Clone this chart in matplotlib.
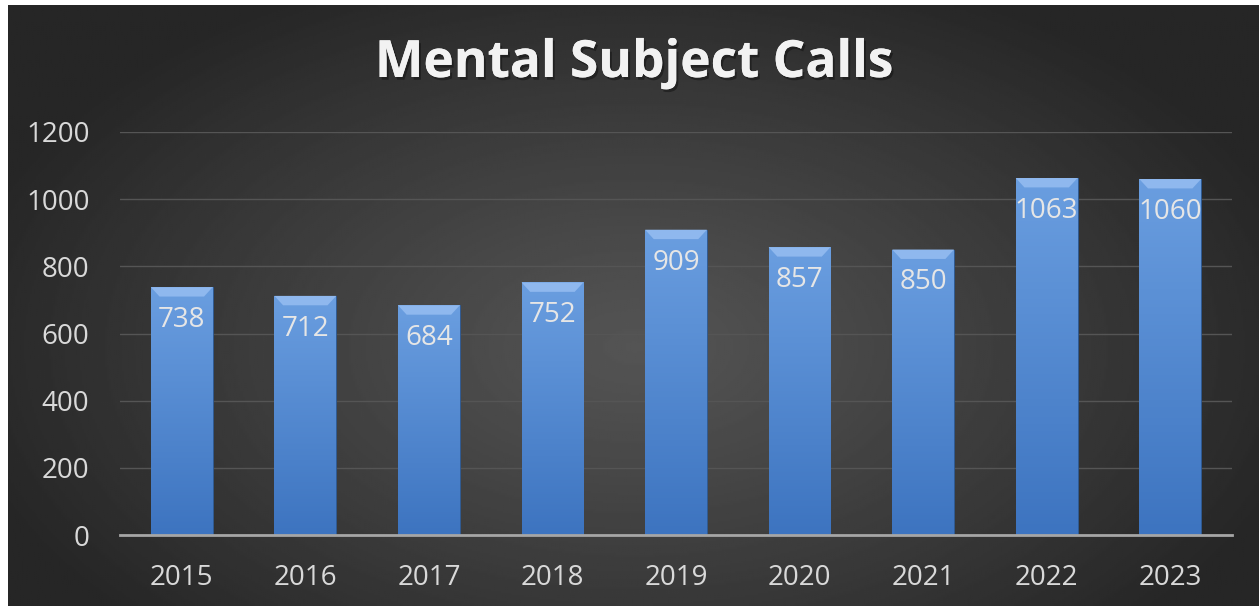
import numpy as np
import matplotlib
matplotlib.use("Agg")
import matplotlib.pyplot as plt
import matplotlib.patheffects as pe
from matplotlib.patches import Polygon
from matplotlib.colors import LinearSegmentedColormap

#chart data
years = ["2015", "2016", "2017", "2018", "2019", "2020", "2021", "2022", "2023"]
calls = [738, 712, 684, 752, 909, 857, 850, 1063, 1060]
y_ticks = [0, 200, 400, 600, 800, 1000, 1200]

plt.rcParams['font.family'] = ['Open Sans', 'DejaVu Sans']

fig = plt.figure(figsize=(12.59, 6.08), dpi=100)
fig.patch.set_facecolor('white')

#dark panel with radial gradient
W, H = 1259, 608
bg = fig.add_axes([8 / W, 2 / H, 1 - 8 / W, 1 - 7 / H])
yy, xx = np.mgrid[0:300, 0:600]
cx, cy = 300, 170
r = np.sqrt(((xx - cx) / 330.0) ** 2 + ((yy - cy) / 200.0) ** 2)
r = np.clip(r, 0, 1)
light, dark = 0.33, 0.15
img = light + (dark - light) * r ** 1.1
bg.imshow(img, cmap='gray', vmin=0, vmax=1, aspect='auto', extent=[0, 1, 0, 1])
bg.set_axis_off()

#main axes
left, right = 120 / W, 1232 / W
bottom, top = 1 - 535 / H, 1 - 132 / H
ax = fig.add_axes([left, bottom, right - left, top - bottom])
ax.patch.set_alpha(0)

x = np.arange(len(years))
bars = ax.bar(x, calls, width=0.5, color='#4f84cc', zorder=3,
              edgecolor='#2d5a94', linewidth=0.6)

#vertical gradient inside each bar and a bevel on top
grad = np.linspace(0, 1, 100).reshape(-1, 1)
bar_cmap = LinearSegmentedColormap.from_list('b', ['#3d74c0', '#6a9ee0'])
for b in bars:
    bx, bw, bh = b.get_x(), b.get_width(), b.get_height()
    im = ax.imshow(grad, cmap=bar_cmap, aspect='auto', origin='lower',
                   extent=[bx, bx + bw, 0, bh], zorder=3.5)
    im.set_clip_path(b)
    bev = 28
    ax.add_patch(Polygon([[bx, bh], [bx + bw, bh], [bx + bw - 0.07, bh - bev],
                          [bx + 0.07, bh - bev]], closed=True,
                         facecolor='#8fb8ee', edgecolor='none', zorder=4))
    ax.text(bx + bw / 2, bh - 98, f"{int(bh)}", ha='center', va='center',
            fontsize=20, color='#e6e6e6', zorder=5)

ax.set_xlim(-0.5, len(years) - 0.5)
ax.set_ylim(0, 1200)
ax.set_yticks(y_ticks)
ax.set_xticks(x)
ax.set_xticklabels(years)
ax.tick_params(axis='both', length=0, labelsize=20, colors='#d9d9d9')
ax.tick_params(axis='y', pad=22)
ax.tick_params(axis='x', pad=21)
ax.grid(axis='y', color='#555555', linewidth=1.0, zorder=0)
for side in ['top', 'right', 'left']:
    ax.spines[side].set_visible(False)
ax.spines['bottom'].set_color('#a6a6a6')
ax.spines['bottom'].set_linewidth(2)
ax.spines['bottom'].set_zorder(6)

fig.text(634 / W, 1 - 64 / H, "Mental Subject Calls", ha='center', va='center',
         fontsize=37, fontweight='bold', color='#f2f2f2',
         path_effects=[pe.withSimplePatchShadow(offset=(1.5, -2), shadow_rgbFace='black', alpha=0.35),
                       pe.Normal()])

fig.savefig('out.png', dpi=100, facecolor=fig.get_facecolor())
